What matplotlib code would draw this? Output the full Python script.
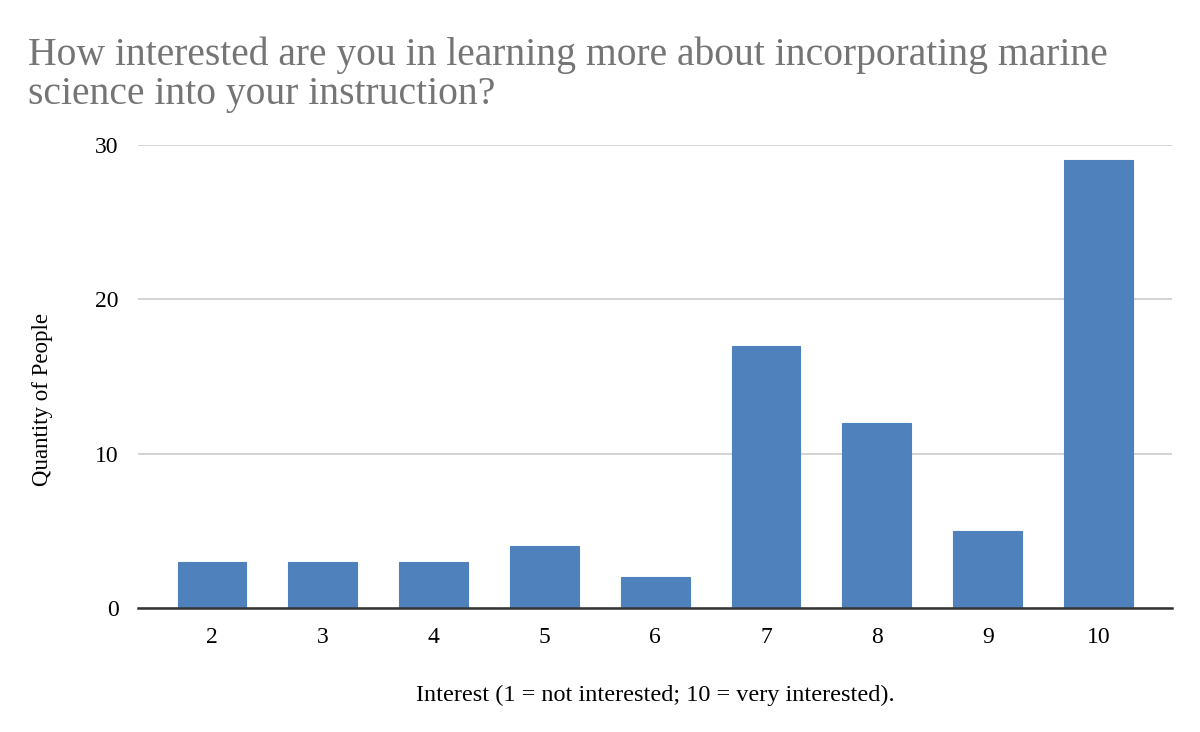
import matplotlib
matplotlib.use("Agg")
import matplotlib.pyplot as plt

categories = ["2", "3", "4", "5", "6", "7", "8", "9", "10"]
counts = [3, 3, 3, 4, 2, 17, 12, 5, 29]

plt.rcParams['font.family'] = ['Liberation Serif', 'DejaVu Serif']

fig = plt.figure(figsize=(12, 7.32), dpi=100)
ax = fig.add_axes([0.115, 0.1694, 0.862, 0.6326])

x = list(range(len(categories)))
ax.bar(x, counts, width=0.62, color="#4f81bd", edgecolor="#4f81bd", linewidth=0.8, zorder=3)

ax.set_xlim(-0.667, len(categories) - 1 + 0.667)
ax.set_ylim(0, 30)
ax.set_yticks([0, 10, 20, 30])
ax.set_xticks(x)
ax.set_xticklabels(categories)
ax.tick_params(axis="both", length=0, labelsize=17)
ax.tick_params(axis="y", pad=14)
ax.tick_params(axis="x", pad=14)

ax.grid(axis="y", color="#cccccc", linewidth=1.2, zorder=0)
for s in ["top", "right", "left"]:
    ax.spines[s].set_visible(False)
ax.spines["bottom"].set_color("#333333")
ax.spines["bottom"].set_linewidth(1.8)
ax.spines["bottom"].set_zorder(4)

ax.set_xlabel("Interest (1 = not interested; 10 = very interested).", fontsize=17.5)
ax.xaxis.set_label_coords(0.5, -0.165)
ax.set_ylabel("Quantity of People", fontsize=16.5)
ax.yaxis.set_label_coords(-0.082, 0.45)

fig.text(0.023, 0.95, "How interested are you in learning more about incorporating marine\nscience into your instruction?",
         fontsize=28.5, color="#757575", ha="left", va="top", linespacing=1.06)

fig.savefig("out.png", dpi=100)
plt.close(fig)
